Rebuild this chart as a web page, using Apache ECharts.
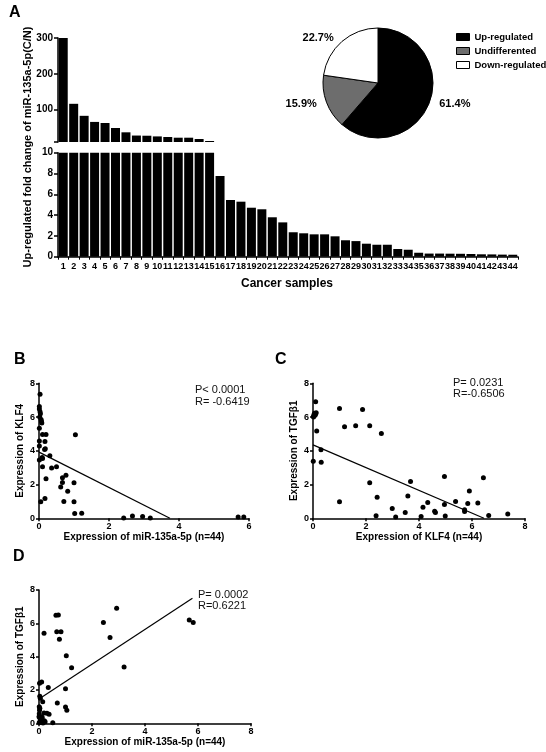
<!DOCTYPE html>
<html>
<head>
<meta charset="utf-8">
<script src="https://cdn.jsdelivr.net/npm/echarts@6/dist/echarts.min.js"></script>
<style>html,body{margin:0;padding:0;background:#fff;}#c{width:546px;height:752px;}</style>
</head>
<body>
<div id="c"></div>
<script>
// ---------- Panel A data ----------
const sampleLabels = ['1','2','3','4','5','6','7','8','9','10','11','12','13','14','15','16','17','18','19','20','21','22','23','24','25','26','27','28','29','30','31','32','33','34','35','36','37','38','39','40','41','42','43','44'];
const foldChange = [300,116.5,83,66,63,49,37,28,27.5,25.6,24,22,22,18.3,12.8,7.76,5.45,5.29,4.71,4.56,3.79,3.3,2.35,2.25,2.15,2.15,1.96,1.58,1.5,1.25,1.15,1.15,0.74,0.67,0.38,0.3,0.3,0.29,0.28,0.26,0.23,0.22,0.2,0.19];
const topTicks = [100,200,300];
const pieNames = ['Up-regulated','Undifferented','Down-regulated'];
const pieCounts = [27,7,10];

// ---------- Panel B: miR-135a-5p vs KLF4 ----------
const scatterB = [[0.03,7.35],[0.01,6.62],[0.01,6.48],[0.03,6.32],[0.04,6.19],[0.06,5.85],[0.07,5.75],[0.08,5.65],[0.01,5.33],[0.1,4.96],[0.2,4.96],[0.01,4.58],[0.17,4.55],[0.01,4.28],[0.18,4.12],[0.16,4.08],[0.31,3.7],[0.01,3.45],[0.1,3.55],[0.1,3.05],[0.36,2.98],[0.5,3.05],[0.2,2.35],[0.67,2.4],[0.77,2.55],[0.67,2.12],[0.62,1.86],[0.82,1.6],[0.17,1.18],[0.05,0.98],[0.71,0.99],[1.0,0.98],[1.0,2.1],[1.04,4.95],[1.02,0.28],[1.22,0.3],[2.42,0.02],[2.67,0.14],[2.96,0.1],[3.18,0.02],[5.69,0.08],[5.85,0.08],[0.02,6.0],[0.09,3.6]];
const fitB = [[0,3.92],[3.74,0]];
const statsB = ['P< 0.0001','R= -0.6419'];

// ---------- Panel C: KLF4 vs TGFb1 ----------
const scatterC = [[0.1,6.9],[0.06,6.22],[0.1,6.2],[0.08,6.1],[0.02,6.05],[0.14,5.17],[0.3,4.06],[0.01,3.38],[0.31,3.32],[1.0,6.5],[1.87,6.45],[1.19,5.42],[1.61,5.48],[2.14,5.48],[2.58,5.02],[1.0,0.98],[2.14,2.1],[2.42,1.25],[2.38,0.15],[2.99,0.58],[3.12,0.08],[3.48,0.35],[3.58,1.32],[3.68,2.18],[4.08,0.1],[4.15,0.65],[4.33,0.93],[4.59,0.42],[4.62,0.35],[4.96,2.48],[4.96,0.82],[4.99,0.14],[5.38,1.0],[5.72,0.5],[5.72,0.4],[5.84,0.88],[5.9,1.62],[6.22,0.9],[6.43,2.4],[6.63,0.16],[7.35,0.26],[0.04,6.15],[0.12,6.25],[0.02,6.0]];
const fitC = [[0,4.35],[6.45,0]];
const statsC = ['P= 0.0231','R=-0.6506'];

// ---------- Panel D: miR-135a-5p vs TGFb1 ----------
const scatterD = [[2.93,6.9],[2.43,6.05],[2.68,5.15],[3.21,3.38],[5.67,6.2],[5.82,6.05],[0.64,6.48],[0.73,6.5],[0.67,5.5],[0.83,5.5],[0.77,5.04],[0.19,5.4],[1.03,4.06],[1.23,3.34],[1.0,2.08],[0.35,2.15],[0.02,2.4],[0.1,2.48],[0.03,1.62],[0.14,1.3],[0.69,1.22],[0.01,1.0],[0.03,0.9],[1.0,0.98],[1.05,0.78],[0.19,0.62],[0.38,0.55],[0.01,0.58],[0.1,0.4],[0.04,0.3],[0.23,0.1],[0.52,0.04],[0.01,0.05],[0.08,0.05],[0.13,0.12],[0.05,0.2],[0.2,0.15],[0.12,0.35],[0.02,0.78],[0.06,0.12],[0.15,0.02],[0.3,0.6],[0.05,1.5],[0.0,0.4]];
const fitD = [[0,1.46],[5.79,7.5]];
const statsD = ['P= 0.0002','R=0.6221'];

const FONT = 'Arial, "Liberation Sans", sans-serif';
const pieColors = ['#000000','#6d6d6d','#ffffff'];

function lineStyle(){ return {show:true, lineStyle:{color:'#000', width:1.5}}; }
function tickStyle(){ return {show:true, length:3, lineStyle:{color:'#000', width:1.5}}; }
function labelStyle(size, margin){ return {color:'#000', fontWeight:'bold', fontSize:size, fontFamily:FONT, margin:margin}; }

function valAxis(gridIndex, max, interval, name, nameGap){
  return {
    type:'value', gridIndex, min:0, max, interval,
    name, nameLocation:'middle', nameGap,
    nameTextStyle:{color:'#000', fontWeight:'bold', fontSize:10, fontFamily:FONT},
    axisLine:lineStyle(), axisTick:tickStyle(),
    axisLabel:labelStyle(9, 4), splitLine:{show:false}
  };
}

const chart = echarts.init(document.getElementById('c'), null, {renderer:'canvas'});

const option = {
  animation:false,
  backgroundColor:'#fff',
  grid:[
    {left:58, top:38, width:460, height:104},
    {left:58, top:152.7, width:460, height:104},
    {left:39, top:383.3, width:210, height:135},
    {left:313, top:383.3, width:212, height:135},
    {left:39, top:590, width:212, height:133.3}
  ],
  xAxis:[
    {type:'category', gridIndex:0, data:sampleLabels, show:false},
    {type:'category', gridIndex:1, data:sampleLabels,
     axisLine:lineStyle(), axisTick:{show:true, length:3, lineStyle:{color:'#000', width:1}},
     axisLabel:Object.assign(labelStyle(9, 5), {interval:0, hideOverlap:false})},
    valAxis(2, 6, 2, 'Expression of miR-135a-5p (n=44)', 12),
    valAxis(3, 8, 2, 'Expression of KLF4 (n=44)', 12),
    valAxis(4, 8, 2, 'Expression of miR-135a-5p (n=44)', 12)
  ],
  yAxis:[
    {type:'value', gridIndex:0, min:10, max:300,
     axisLine:lineStyle(),
     axisTick:{show:true, length:4, customValues:[10].concat(topTicks), lineStyle:{color:'#000', width:1.5}},
     axisLabel:Object.assign(labelStyle(10, 5), {customValues:topTicks}),
     splitLine:{show:false}},
    {type:'value', gridIndex:1, min:0, max:10, interval:2,
     axisLine:lineStyle(), axisTick:{show:true, length:4, lineStyle:{color:'#000', width:1.5}},
     axisLabel:labelStyle(10, 5), splitLine:{show:false}},
    valAxis(2, 8, 2, 'Expression of KLF4', 14),
    valAxis(3, 8, 2, 'Expression of TGFβ1', 14),
    valAxis(4, 8, 2, 'Expression of TGFβ1', 14)
  ],
  legend:{
    orient:'vertical', left:451, top:27, itemWidth:13, itemHeight:7, itemGap:4,
    icon:'rect', data:pieNames, selectedMode:false,
    itemStyle:{borderColor:'#000', borderWidth:1},
    textStyle:{color:'#000', fontWeight:'bold', fontSize:9.5, fontFamily:FONT}
  },
  series:[
    {type:'bar', xAxisIndex:0, yAxisIndex:0, barCategoryGap:'14%', clip:true,
     data:foldChange.map(v => v > 10 ? v : '-'), itemStyle:{color:'#000'}, silent:true},
    {type:'bar', xAxisIndex:1, yAxisIndex:1, barCategoryGap:'14%', clip:true,
     data:foldChange, itemStyle:{color:'#000'}, silent:true},
    {type:'pie', center:[378,83], radius:55, startAngle:90, clockwise:true,
     percentPrecision:1, avoidLabelOverlap:false, silent:true,
     data:pieNames.map((n,i)=>({name:n, value:pieCounts[i], itemStyle:{color:pieColors[i]}})),
     itemStyle:{borderColor:'#000', borderWidth:1},
     label:{show:true, position:'outside', formatter:'{d}%', color:'#000', fontWeight:'bold', fontSize:11, fontFamily:FONT},
     labelLine:{show:false, length:5, length2:0}},
    {type:'scatter', xAxisIndex:2, yAxisIndex:2, data:scatterB, symbolSize:5, itemStyle:{color:'#000', opacity:1}},
    {type:'line', xAxisIndex:2, yAxisIndex:2, data:fitB, showSymbol:false, lineStyle:{color:'#000', width:1.2}},
    {type:'scatter', xAxisIndex:3, yAxisIndex:3, data:scatterC, symbolSize:5, itemStyle:{color:'#000', opacity:1}},
    {type:'line', xAxisIndex:3, yAxisIndex:3, data:fitC, showSymbol:false, lineStyle:{color:'#000', width:1.2}},
    {type:'scatter', xAxisIndex:4, yAxisIndex:4, data:scatterD, symbolSize:5, itemStyle:{color:'#000', opacity:1}},
    {type:'line', xAxisIndex:4, yAxisIndex:4, data:fitD, showSymbol:false, lineStyle:{color:'#000', width:1.2}}
  ],
  graphic:[
    {type:'text', left:9, top:5, style:{text:'A', font:'bold 16px '+FONT, fill:'#000'}},
    {type:'text', left:14, top:352, style:{text:'B', font:'bold 16px '+FONT, fill:'#000'}},
    {type:'text', left:275, top:352, style:{text:'C', font:'bold 16px '+FONT, fill:'#000'}},
    {type:'text', left:13, top:549, style:{text:'D', font:'bold 16px '+FONT, fill:'#000'}},
    {type:'text', x:28, y:147, rotation:Math.PI/2,
     style:{text:'Up-regulated fold change of miR-135a-5p(C/N)', font:'bold 11px '+FONT, fill:'#000', align:'center', verticalAlign:'middle'}},
    {type:'text', x:287, y:284,
     style:{text:'Cancer samples', font:'bold 12px '+FONT, fill:'#000', align:'center', verticalAlign:'middle'}},
    {type:'text', x:195, y:384, style:{text:statsB.join('\n'), font:'11px '+FONT, fill:'#111', lineHeight:12}},
    {type:'text', x:453, y:377, style:{text:statsC.join('\n'), font:'11px '+FONT, fill:'#111', lineHeight:11}},
    {type:'text', x:198, y:589, style:{text:statsD.join('\n'), font:'11px '+FONT, fill:'#111', lineHeight:11}}
  ]
};
chart.setOption(option);
</script>
</body>
</html>
